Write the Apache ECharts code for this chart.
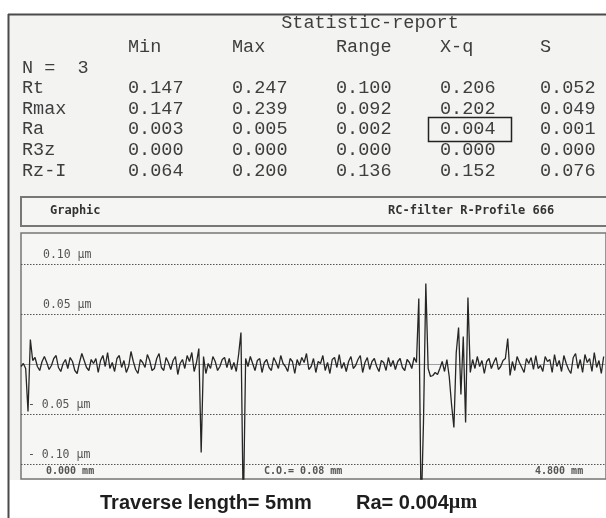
<!DOCTYPE html>
<html>
<head>
<meta charset="utf-8">
<script src="https://cdn.jsdelivr.net/npm/echarts@6/dist/echarts.min.js"></script>
<style>
  html, body { margin: 0; padding: 0; background: #ffffff; }
  #chart { width: 606px; height: 518px; }
</style>
</head>
<body>
<div id="chart"></div>
<script>
// ---- Statistic report table ----
const reportTitle = 'Statistic-report';
const columnNames = ['Min', 'Max', 'Range', 'X-q', 'S'];
const sampleCount = 3;
const parameterNames = ['Rt', 'Rmax', 'Ra', 'R3z', 'Rz-I'];
const minValues   = [0.147, 0.147, 0.003, 0.000, 0.064];
const maxValues   = [0.247, 0.239, 0.005, 0.000, 0.200];
const rangeValues = [0.100, 0.092, 0.002, 0.000, 0.136];
const xqValues    = [0.206, 0.202, 0.004, 0.000, 0.152];
const sValues     = [0.052, 0.049, 0.001, 0.000, 0.076];
const highlightedParameter = 'Ra';   // X-q cell framed in the report

// ---- Profile graphic ----
const graphicTitle = 'Graphic';
const filterTitle = 'RC-filter R-Profile 666';
const sampleStepMm = 0.02;           // spacing of the profile samples (mm)
const traverseLengthMm = 5;
// Filtered roughness profile heights (µm), one per sample
const profileHeights = [
  -0.002, 0.001, -0.004, -0.047, 0.025, 0.004, 0.007, -0.002, -0.006, 0.003,
  0.008, 0.002, -0.005, -0.001, 0.006, 0.009, -0.003, -0.007, 0.001, 0.005,
  -0.004, 0.007, 0.003, -0.006, -0.009, 0.002, 0.011, 0.004, -0.003, -0.006,
  0.005, 0.001, 0.006, -0.008, 0.004, 0.009, -0.002, 0.012, -0.004, 0.002,
  -0.007, 0.006, 0.009, -0.003, 0.004, -0.008, -0.002, 0.013, 0.003, -0.005,
  -0.009, 0.005, 0.002, -0.003, 0.010, 0.004, -0.006, -0.004, 0.006, 0.011,
  -0.003, -0.006, 0.007, 0.002, -0.005, 0.004, 0.008, -0.010, 0.001, 0.005,
  -0.004, 0.009, 0.003, 0.012, -0.007, 0.002, 0.016, -0.088, 0.008, -0.009,
  0.001, -0.004, 0.008, 0.003, -0.006, -0.002, 0.005, 0.007, -0.003, 0.006,
  -0.005, 0.002, -0.007, 0.010, 0.032, -0.150, 0.006, -0.002, 0.008, 0.001,
  -0.006, 0.004, 0.006, -0.008, 0.002, 0.005, -0.003, -0.006, 0.007, 0.002,
  -0.004, 0.009, 0.001, -0.002, -0.007, 0.006, 0.003, -0.009, 0.005, -0.001,
  0.007, 0.002, 0.011, -0.005, -0.002, 0.006, -0.008, 0.003, 0.001, 0.009,
  -0.006, 0.002, -0.009, 0.005, 0.007, -0.003, 0.010, -0.004, 0.002, -0.007,
  0.003, 0.008, -0.004, -0.001, 0.005, 0.009, -0.008, 0.002, 0.007, -0.005,
  0.003, 0.006, -0.002, -0.007, 0.004, 0.002, -0.006, 0.007, -0.002, 0.004,
  -0.005, 0.003, 0.006, -0.003, -0.006, 0.005, 0.002, -0.004, 0.007, 0.002,
  0.066, -0.150, -0.058, 0.081, -0.004, -0.012, -0.011, -0.008, -0.010, -0.004,
  0.003, -0.007, 0.005, -0.012, -0.040, -0.063, 0.012, 0.037, -0.030, 0.028,
  -0.058, 0.067, -0.008, 0.005, -0.004, 0.008, -0.002, 0.004, -0.009, 0.003,
  0.006, -0.004, 0.002, 0.007, -0.005, -0.002, 0.004, 0.006, 0.026, -0.011,
  0.003, -0.006, 0.008, 0.002, -0.003, -0.008, 0.006, 0.001, 0.007, -0.005,
  0.009, -0.004, -0.001, -0.007, 0.008, 0.003, 0.005, -0.008, 0.010, -0.002,
  0.004, -0.007, 0.009, 0.001, -0.005, -0.009, 0.007, 0.011, -0.004, 0.005,
  -0.008, 0.010, 0.002, 0.006, -0.007, 0.012, -0.003, 0.004, -0.009, 0.008
];
const heightTicks = [0.10, 0.05, -0.05, -0.10];
const heightTickLabels = ['0.10 µm', '0.05 µm', '- 0.05 µm', '- 0.10 µm'];
const lengthLabels = ['0.000 mm', 'C.O.= 0.08 mm', '4.800 mm'];
const traverseCaption = 'Traverse length= 5mm';
const raCaptionValue = 'Ra= 0.004';
const raCaptionUnit = 'µm';

// ---- build ----
const monoFont = '"Liberation Mono", "DejaVu Sans Mono", monospace';
const dotFont = '"DejaVu Sans Mono", monospace';
const sansFont = '"Liberation Sans", Arial, sans-serif';
const txtColor = '#3e3e3e';
const tableSize = 18.5;

const columns = [minValues, maxValues, rangeValues, xqValues, sValues];
const columnX = [128, 232, 336, 440, 540];
const rowY0 = 88, rowStep = 20.8;

const elements = [];
// page frame
elements.push({ type: 'rect', shape: { x: 9, y: 15, width: 600, height: 465 },
  style: { fill: '#f3f3f1' }, silent: true, z: 0 });
elements.push({ type: 'line', shape: { x1: 8.5, y1: 14, x2: 8.5, y2: 518 },
  style: { stroke: '#4a4a4a', lineWidth: 2 }, z: 5 });
elements.push({ type: 'line', shape: { x1: 8, y1: 14.5, x2: 606, y2: 14.5 },
  style: { stroke: '#4a4a4a', lineWidth: 2 }, z: 5 });

function txt(x, y, text, font, size, extra) {
  return { type: 'text', x: x, y: y, z: 10, silent: true,
    style: Object.assign({ text: text, fontFamily: font, fontSize: size,
      fill: txtColor, verticalAlign: 'middle', align: 'left' }, extra || {}) };
}

elements.push(txt(370, 23, reportTitle, monoFont, tableSize, { align: 'center' }));
columnNames.forEach((c, i) => elements.push(txt(columnX[i], 47, c, monoFont, tableSize)));
elements.push(txt(22, 68, 'N =  ' + sampleCount, monoFont, tableSize));
parameterNames.forEach((p, r) => {
  const y = rowY0 + r * rowStep;
  elements.push(txt(22, y, p, monoFont, tableSize));
  columns.forEach((col, c) => elements.push(txt(columnX[c], y, col[r].toFixed(3), monoFont, tableSize)));
});
const hiRow = parameterNames.indexOf(highlightedParameter);
elements.push({ type: 'rect', z: 10, silent: true,
  shape: { x: 428.5, y: rowY0 + hiRow * rowStep - 12, width: 83, height: 24 },
  style: { fill: 'none', stroke: '#222', lineWidth: 1.5 } });

// graphic header strip
elements.push({ type: 'rect', z: 3, silent: true,
  shape: { x: 21, y: 197, width: 600, height: 29 },
  style: { fill: '#f5f5f3', stroke: '#777', lineWidth: 2 } });
elements.push(txt(50, 211, graphicTitle, dotFont, 12, { fontWeight: 'bold', fill: '#333' }));
elements.push(txt(388, 211, filterTitle, dotFont, 12, { fontWeight: 'bold', fill: '#333' }));

// length labels under the profile
const lengthX = [46, 264, 535];
lengthLabels.forEach((l, i) => elements.push(txt(lengthX[i], 471, l, dotFont, 10, { fontWeight: 'bold', fill: '#555' })));

// caption
elements.push(txt(100, 503, traverseCaption, sansFont, 20, { fontWeight: 'bold', fill: '#1e1e1e' }));
elements.push({ type: 'text', x: 356, y: 503, z: 10, silent: true,
  style: {
    text: '{v|' + raCaptionValue + '}{u|' + raCaptionUnit + '}',
    verticalAlign: 'middle', align: 'left',
    rich: {
      v: { fontFamily: sansFont, fontSize: 20, fontWeight: 'bold', fill: '#1e1e1e' },
      u: { fontFamily: '"Liberation Serif", "DejaVu Serif", serif', fontSize: 20, fontWeight: 'bold', fill: '#1e1e1e' }
    }
  } });

const profileData = profileHeights.map((h, i) => [i * sampleStepMm, h]);

const markLines = heightTicks.map((v, i) => ({
  yAxis: v,
  label: { show: true, formatter: heightTickLabels[i], distance: [v < 0 ? 7 : 22, 3] }
}));
markLines.push({ yAxis: 0, label: { show: false },
  lineStyle: { type: 'solid', color: '#8a8a8a', width: 0.8 } });

const chart = echarts.init(document.getElementById('chart'), null, { renderer: 'canvas' });
chart.setOption({
  animation: false,
  backgroundColor: '#ffffff',
  graphic: { elements: elements },
  grid: {
    left: 21, right: -10, top: 233, bottom: 39,
    show: true, borderColor: '#777', borderWidth: 1.5, backgroundColor: '#f6f6f4', z: 4
  },
  xAxis: { type: 'value', min: 0, max: traverseLengthMm, show: false },
  yAxis: { type: 'value', min: -0.1145, max: 0.1315, show: false },
  series: [{
    type: 'line',
    data: profileData,
    showSymbol: false,
    z: 6,
    lineStyle: { color: '#262626', width: 1.3 },
    markLine: {
      silent: true,
      symbol: ['none', 'none'],
      lineStyle: { type: [1.5, 1.5], color: '#555', width: 1 },
      label: {
        position: 'insideStartTop',
        fontFamily: dotFont, fontSize: 11.5, color: '#555'
      },
      data: markLines
    }
  }]
});
</script>
</body>
</html>
